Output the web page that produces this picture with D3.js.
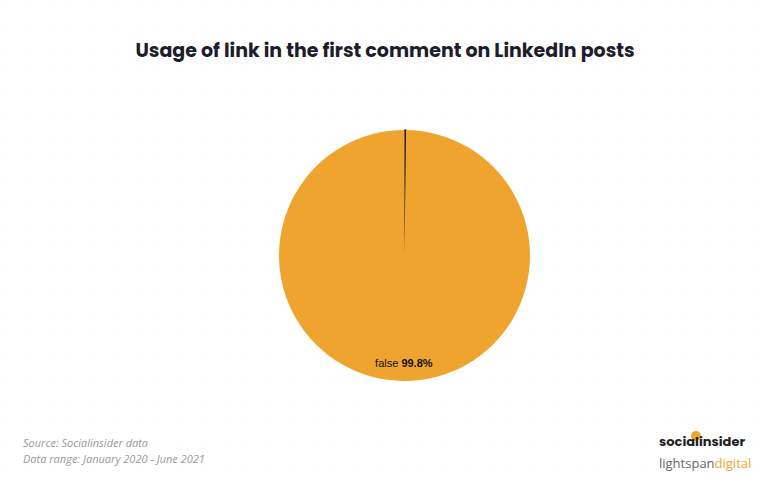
<!DOCTYPE html>
<html><head><meta charset="utf-8">
<script src="https://cdn.jsdelivr.net/npm/d3@7"></script>
<style>body{margin:0;background:#fff}</style></head>
<body><svg id="c" width="770" height="489"></svg>
<script>
const categories = ["true", "false"];
const values = [0.2, 99.8];
const colors = ["#1a1a2e", "#efa430"];

const svg = d3.select("#c");
// dotted background
const dots = svg.append("g");
for (let y = 5; y < 489; y += 22) for (let x = 5; x < 770; x += 22)
  dots.append("circle").attr("cx", x).attr("cy", y).attr("r", 0.6).attr("fill", "#eee");

svg.append("text").attr("x", 385).attr("y", 57).attr("text-anchor", "middle")
  .attr("font-family", "Poppins, 'Open Sans', sans-serif").attr("font-weight", 700)
  .attr("font-size", 19).attr("fill", "#1d1d2b")
  .text("Usage of link in the first comment on LinkedIn posts");

const cx = 404.5, cy = 255.5, r = 125.5;
const data = categories.map((c, i) => ({ c, v: values[i], col: colors[i] }));
const pie = d3.pie().sort(null).value(d => d.v);
const arc = d3.arc().innerRadius(0).outerRadius(r);
const g = svg.append("g").attr("transform", `translate(${cx},${cy})`);
const arcs = pie(data);
g.selectAll("path").data(arcs).join("path").attr("d", arc)
  .attr("fill", d => d.data.col)
  .attr("stroke", d => d.data.c === "true" ? d.data.col : "none").attr("stroke-width", 1.2);

const f = arcs[1];
const mid = (f.startAngle + f.endAngle) / 2;
const lr = r * 0.86;
const lab = g.append("text").attr("x", Math.sin(mid) * lr).attr("y", -Math.cos(mid) * lr + 4)
  .attr("text-anchor", "middle").attr("font-family", "Arial, 'Liberation Sans', sans-serif")
  .attr("font-size", 11).attr("fill", "#111");
lab.append("tspan").text(f.data.c + " ");
lab.append("tspan").attr("font-weight", 700).text(f.data.v + "%");

const src = svg.append("g").attr("font-family", "'Open Sans', sans-serif").attr("font-style", "italic")
  .attr("font-size", 11).attr("fill", "#999");
src.append("text").attr("x", 23).attr("y", 447).text("Source: Socialinsider data");
src.append("text").attr("x", 23).attr("y", 463).text("Data range: January 2020 - June 2021");

svg.append("circle").attr("cx", 696).attr("cy", 436).attr("r", 5).attr("fill", "#efa430");
svg.append("text").attr("x", 659).attr("y", 446).attr("font-family", "Poppins, 'Open Sans', sans-serif")
  .attr("font-weight", 700).attr("font-size", 13).attr("fill", "#222").text("socialinsider");
const ls = svg.append("text").attr("x", 659).attr("y", 468).attr("font-family", "'Open Sans', sans-serif")
  .attr("font-size", 13);
ls.append("tspan").attr("fill", "#666").text("lightspan");
ls.append("tspan").attr("fill", "#efa430").text("digital");
</script></body></html>
